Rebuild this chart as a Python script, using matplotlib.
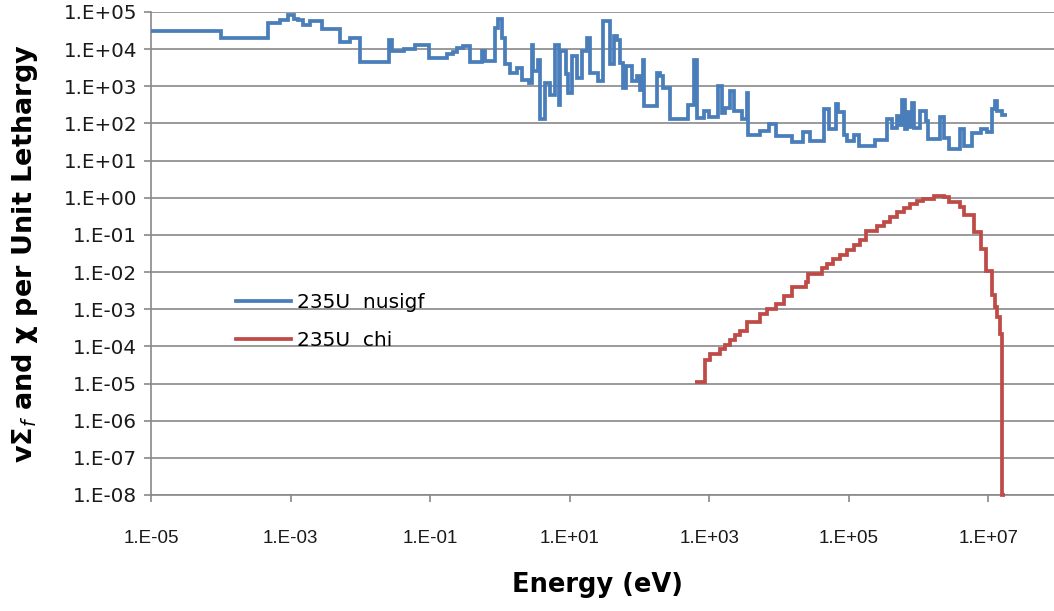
import numpy as np
import matplotlib
matplotlib.use("Agg")
import matplotlib.pyplot as plt
from matplotlib.ticker import FuncFormatter, NullLocator

# group boundaries (eV) and values per unit lethargy
nusigf_edges = [
    1.0e-5, 1.0e-4, 4.7e-4, 7.1e-4, 9.3e-4, 1.12e-3, 1.29e-3, 1.51e-3, 1.9e-3, 2.8e-3,
    5.1e-3, 7.1e-3, 1.0e-2, 2.6e-2, 2.8e-2, 4.2e-2, 6.0e-2, 9.5e-2, 0.174, 0.214,
    0.24, 0.30, 0.37, 0.55, 0.62, 0.85, 0.95, 1.07, 1.2, 1.41,
    1.74, 2.04, 2.57, 2.88, 3.02, 3.47, 3.8, 4.47, 5.25, 6.17,
    6.92, 7.24, 8.71, 9.55, 10.7, 12.6, 14.8, 17.8, 19.5, 25.7,
    30.2, 38.0, 42.7, 47.9, 52.5, 58.9, 64.6, 77.6, 91.2, 102,
    112, 117, 178, 195, 219, 275, 490, 603, 676, 851,
    1000, 1350, 1510, 1700, 2000, 2240, 2950, 3470, 3630, 5370,
    7080, 8910, 1.55e4, 2.24e4, 2.82e4, 4.37e4, 5.13e4, 6.46e4, 7.08e4, 8.51e4,
    9.33e4, 1.17e5, 1.38e5, 2.4e5, 3.55e5, 4.17e5, 4.9e5, 5.25e5, 5.75e5, 6.31e5,
    6.92e5, 7.41e5, 7.94e5, 8.51e5, 1.05e6, 1.26e6, 1.38e6, 2.04e6, 2.29e6, 2.69e6,
    3.98e6, 4.47e6, 5.89e6, 7.76e6, 9.55e6, 1.12e7, 1.26e7, 1.35e7, 1.58e7, 1.86e7,
]
nusigf_vals = [
    3.0e4, 1.95e4, 4.9e4, 6.0e4, 8.5e4, 6.6e4, 5.9e4, 4.4e4, 5.6e4, 3.4e4,
    1.6e4, 1.95e4, 4.6e3, 1.8e4, 8.7e3, 9.8e3, 1.26e4, 5.9e3, 7.2e3, 8.3e3,
    1.1e4, 1.2e4, 4.6e3, 8.7e3, 4.9e3, 3.7e4, 6.3e4, 2.0e4, 3.9e3, 2.3e3,
    3.2e3, 1.5e3, 1.2e3, 1.3e4, 2.6e3, 5.2e3, 130, 1.2e3, 600, 1.3e4,
    320, 8.7e3, 2.1e3, 660, 6.5e3, 1.7e3, 8.7e3, 2.0e4, 2.3e3, 1.4e3,
    5.6e4, 3.9e3, 2.2e4, 1.8e4, 4.3e3, 910, 3.5e3, 1.4e3, 1.9e3, 810,
    5.2e3, 290, 2.3e3, 1.9e3, 910, 130, 320, 5.2e3, 140, 210,
    150, 1.0e3, 195, 260, 740, 210, 130, 680, 50, 62,
    98, 46, 32, 60, 33, 240, 69, 340, 200, 50,
    33, 50, 25, 35, 130, 76, 160, 89, 440, 69,
    200, 79, 360, 76, 210, 115, 37, 150, 41, 21,
    69, 25, 56, 72, 60, 240, 400, 220, 165,
]

chi_edges = [
    631, 871, 1020, 1450, 1700, 2000, 2340, 2750, 3470, 5370,
    6760, 8910, 1.17e4, 1.55e4, 2.4e4, 2.63e4, 4.17e4, 4.9e4, 6.03e4, 7.59e4,
    9.33e4, 1.17e5, 1.45e5, 1.74e5, 2.51e5, 3.16e5, 3.89e5, 4.9e5, 6.17e5, 7.59e5,
    9.55e5, 1.17e6, 1.66e6, 2.29e6, 2.69e6, 3.98e6, 4.47e6, 6.17e6, 7.76e6, 9.12e6,
    1.12e7, 1.26e7, 1.35e7, 1.45e7, 1.58e7, 1.74e7,
]
chi_vals = [
    1.07e-5, 4.3e-5, 6.2e-5, 8.5e-5, 1.12e-4, 1.48e-4, 2.0e-4, 2.6e-4, 4.5e-4, 7.4e-4,
    1.02e-3, 1.38e-3, 2.2e-3, 3.9e-3, 5.5e-3, 8.9e-3, 1.26e-2, 1.66e-2, 2.2e-2, 2.9e-2,
    3.9e-2, 5.4e-2, 7.2e-2, 0.129, 0.178, 0.229, 0.309, 0.407, 0.525, 0.676,
    0.83, 0.95, 1.12, 1.02, 0.78, 0.575, 0.347, 0.123, 0.041, 0.011,
    2.4e-3, 1.17e-3, 6.3e-4, 2.2e-4, 1e-8,
]

x_ticks = [1e-5, 1e-3, 1e-1, 1e1, 1e3, 1e5, 1e7]
y_ticks = [10.0 ** k for k in range(-8, 6)]

grey = "#898989"
plt.rcParams["font.family"] = ["DejaVu Sans"]

fig = plt.figure(figsize=(10.54, 6.11), dpi=100)
ax = fig.add_axes([0.1433, 0.1899, 0.8606, 0.7905])
ax.set_xscale("log")
ax.set_yscale("log")
ax.set_xlim(1e-5, 1e8)
ax.set_ylim(1e-8, 1e5)

ax.stairs(nusigf_vals, nusigf_edges, baseline=None, color="#4A7EBB", lw=2.7,
          label="235U  nusigf", zorder=3)
ax.stairs(chi_vals, chi_edges, baseline=None, color="#BE4B48", lw=2.7,
          label="235U  chi", zorder=3, clip_on=False)

ax.set_xticks(x_ticks)
ax.set_yticks(y_ticks)
ax.xaxis.set_minor_locator(NullLocator())
ax.yaxis.set_minor_locator(NullLocator())
fmt = FuncFormatter(lambda v, p: "1.E%+03d" % int(round(np.log10(v))))
ax.xaxis.set_major_formatter(fmt)
ax.yaxis.set_major_formatter(fmt)
ax.tick_params(axis="both", direction="out", length=5, width=1.2, color=grey,
               labelcolor="#1a1a1a")
ax.tick_params(axis="y", labelsize=14.3, pad=5)
ax.tick_params(axis="x", labelsize=13.5, pad=20)
for lab in ax.get_xticklabels():
    lab.set_family(["Liberation Sans Narrow", "Liberation Sans"])

ax.grid(axis="y", color=grey, lw=1.2)
ax.grid(axis="x", visible=False)
for s in ["top", "right"]:
    ax.spines[s].set_visible(False)
for s in ["left", "bottom"]:
    ax.spines[s].set_color(grey)
    ax.spines[s].set_linewidth(1.2)

ax.set_xlabel("Energy (eV)", fontsize=18.5, fontweight="bold")
ax.set_ylabel("vΣ$_{f}$ and χ per Unit Lethargy", fontsize=19.5, fontweight="bold")
ax.xaxis.set_label_coords(0.492, -0.16)
ax.yaxis.set_label_coords(-0.122, 0.5)

ax.legend(loc="upper left", bbox_to_anchor=(0.094, 0.418), frameon=False,
          fontsize=14.5, handlelength=2.7, labelspacing=0.95, borderpad=0,
          borderaxespad=0, handletextpad=0.3)

fig.savefig("out.png", dpi=100)
